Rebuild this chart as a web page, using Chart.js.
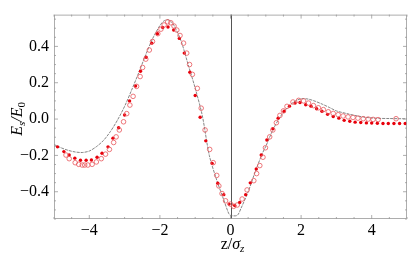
<!DOCTYPE html>
<html>
<head>
<meta charset="utf-8">
<script src="https://cdn.jsdelivr.net/npm/chart.js@4/dist/chart.umd.min.js"></script>
<style>
  html, body { margin: 0; padding: 0; background: #fff; }
  #wrap { width: 415px; height: 259px; }
</style>
</head>
<body>
<div id="wrap"><canvas id="myChart" width="415" height="259"></canvas></div>
<script>
// theory curve (thin gray line)
const lineZ = [-5.0, -4.8, -4.6, -4.4, -4.2, -4.0, -3.8, -3.6, -3.4, -3.2, -3.0, -2.8, -2.6, -2.4, -2.2, -2.0, -1.9, -1.8, -1.7, -1.6, -1.4, -1.2, -1.0, -0.8, -0.6, -0.4, -0.2, -0.05, 0.0, 0.19, 0.3, 0.5, 0.7, 0.9, 1.0, 1.2, 1.4, 1.6, 1.8, 2.0, 2.2, 2.4, 2.6, 2.8, 3.0, 3.3, 3.6, 3.9, 4.2, 4.5, 4.8, 5.0];
const lineV = [-0.14, -0.158, -0.172, -0.181, -0.184, -0.176, -0.152, -0.118, -0.068, -0.005, 0.07, 0.16, 0.255, 0.355, 0.445, 0.515, 0.538, 0.547, 0.54, 0.515, 0.43, 0.30, 0.17, 0.02, -0.2, -0.33, -0.44, -0.52, -0.53, -0.53, -0.49, -0.40, -0.29, -0.19, -0.15, -0.06, 0.01, 0.06, 0.095, 0.112, 0.11, 0.098, 0.082, 0.064, 0.045, 0.03, 0.017, 0.008, 0.004, 0.003, 0.002, 0.002];

// filled red dots
const dotZ = [-4.9, -4.72, -4.57, -4.41, -4.25, -4.09, -3.94, -3.78, -3.64, -3.47, -3.33, -3.17, -3.0, -2.86, -2.69, -2.55, -2.39, -2.23, -2.07, -1.92, -1.77, -1.61, -1.45, -1.31, -1.15, -1.0, -0.86, -0.70, -0.52, -0.36, -0.19, -0.04, 0.12, 0.26, 0.43, 0.56, 0.73, 0.87, 1.03, 1.2, 1.35, 1.52, 1.67, 1.83, 1.97, 2.13, 2.28, 2.44, 2.59, 2.75, 2.91, 3.07, 3.22, 3.38, 3.53, 3.69, 3.85, 4.0, 4.16, 4.32, 4.47, 4.63, 4.79, 4.95];
const dotV = [-0.153, -0.179, -0.198, -0.215, -0.227, -0.227, -0.225, -0.21, -0.188, -0.153, -0.105, -0.048, 0.022, 0.10, 0.182, 0.263, 0.34, 0.418, 0.47, 0.504, 0.507, 0.49, 0.444, 0.363, 0.258, 0.13, 0.01, -0.12, -0.244, -0.353, -0.416, -0.468, -0.476, -0.459, -0.416, -0.351, -0.275, -0.198, -0.115, -0.053, 0.005, 0.043, 0.071, 0.088, 0.091, 0.079, 0.071, 0.057, 0.043, 0.026, 0.014, 0.005, -0.007, -0.012, -0.017, -0.019, -0.021, -0.022, -0.023, -0.024, -0.024, -0.024, -0.024, -0.024];

// open red circles
const ringZ = [-4.66, -4.57, -4.4, -4.30, -4.20, -4.13, -4.04, -3.92, -3.80, -3.66, -3.54, -3.43, -3.31, -3.24, -3.15, -3.03, -2.94, -2.85, -2.76, -2.66, -2.56, -2.49, -2.40, -2.30, -2.21, -2.06, -1.97, -1.88, -1.78, -1.69, -1.60, -1.52, -1.43, -1.33, -1.24, -1.16, -1.08, -0.94, -0.83, -0.72, -0.59, -0.49, -0.39, -0.33, -0.24, -0.14, 0.0, 0.09, 0.19, 0.33, 0.47, 0.66, 0.74, 0.83, 0.92, 0.99, 1.11, 1.20, 1.30, 1.40, 1.50, 1.60, 1.77, 1.93, 2.07, 2.21, 2.35, 2.49, 2.63, 2.77, 2.91, 3.05, 3.19, 3.33, 3.47, 3.61, 3.76, 3.90, 4.04, 4.18, 4.69];
const ringV = [-0.198, -0.218, -0.24, -0.249, -0.253, -0.253, -0.253, -0.249, -0.236, -0.218, -0.193, -0.167, -0.129, -0.098, -0.06, -0.015, 0.03, 0.077, 0.125, 0.18, 0.234, 0.284, 0.33, 0.38, 0.427, 0.47, 0.495, 0.518, 0.535, 0.53, 0.512, 0.49, 0.46, 0.418, 0.363, 0.30, 0.246, 0.169, 0.06, -0.06, -0.167, -0.24, -0.31, -0.368, -0.41, -0.45, -0.468, -0.48, -0.473, -0.44, -0.39, -0.339, -0.30, -0.256, -0.21, -0.158, -0.098, -0.06, -0.02, 0.02, 0.045, 0.07, 0.094, 0.103, 0.10, 0.088, 0.074, 0.062, 0.052, 0.04, 0.031, 0.024, 0.017, 0.012, 0.009, 0.005, 0.002, 0.0, -0.002, -0.003, 0.002];

// axis ticks
const xTicks = [-4, -2, 0, 2, 4];
const yTicks = [-0.4, -0.2, 0.0, 0.2, 0.4];

const serif = '"Liberation Serif", "DejaVu Serif", serif';

function pairs(xs, ys) {
    return xs.map((x, i) => ({ x: x, y: ys[i] }));
}

function minus(s) {
    return String(s).replace('-', '\u2212');
}

// draw a label made of pieces (text, font, baseline shift), centred on cx
function drawPieces(ctx, parts, cx, y) {
    let w = 0;
    parts.forEach(p => { ctx.font = p[1]; w += ctx.measureText(p[0]).width; });
    let x = cx - w / 2;
    parts.forEach(p => {
        ctx.font = p[1];
        ctx.fillText(p[0], x, y + p[2]);
        x += ctx.measureText(p[0]).width;
    });
}

// frame, inward ticks, x = 0 line and axis titles
const framePlugin = {
    id: 'frame',
    beforeDatasetsDraw(chart) {
        const ctx = chart.ctx;
        const a = chart.chartArea;
        const xs = chart.scales.x;
        ctx.save();
        ctx.strokeStyle = '#555';
        ctx.lineWidth = 1;
        const x0 = Math.round(xs.getPixelForValue(0)) + 0.5;
        ctx.beginPath();
        ctx.moveTo(x0, a.top);
        ctx.lineTo(x0, a.bottom);
        ctx.stroke();
        ctx.restore();
    },
    afterDraw(chart) {
        const ctx = chart.ctx;
        const a = chart.chartArea;
        const xs = chart.scales.x;
        const ys = chart.scales.y;
        ctx.save();
        ctx.strokeStyle = '#999';
        ctx.lineWidth = 0.8;
        ctx.strokeRect(a.left + 0.5, a.top + 0.5, a.right - a.left - 1, a.bottom - a.top - 1);

        ctx.beginPath();
        for (let v = -5; v <= 5.001; v += 0.5) {
            const px = xs.getPixelForValue(v);
            const len = Math.abs(v % 2) < 0.01 ? 4 : 2;
            ctx.moveTo(px, a.bottom);
            ctx.lineTo(px, a.bottom - len);
            ctx.moveTo(px, a.top);
            ctx.lineTo(px, a.top + len);
        }
        for (let k = -11; k <= 11; k++) {
            const py = ys.getPixelForValue(k * 0.05);
            if (py < a.top || py > a.bottom) continue;
            const len = k % 4 === 0 ? 4 : 2;
            ctx.moveTo(a.left, py);
            ctx.lineTo(a.left + len, py);
            ctx.moveTo(a.right, py);
            ctx.lineTo(a.right - len, py);
        }
        ctx.stroke();

        // y title: E_s/E_0
        ctx.fillStyle = '#000';
        ctx.textBaseline = 'alphabetic';
        ctx.translate(22, (a.top + a.bottom) / 2 + 2);
        ctx.rotate(-Math.PI / 2);
        drawPieces(ctx, [
            ['E', 'italic 16px ' + serif, 0],
            ['s', 'italic 11px ' + serif, 3],
            ['/E', 'italic 16px ' + serif, 0],
            ['0', '11px ' + serif, 3]
        ], 0, 0);
        ctx.restore();

        // x title: z/σ_z
        ctx.save();
        ctx.fillStyle = '#000';
        drawPieces(ctx, [
            ['z/', '16px ' + serif, 0],
            ['\u03c3', 'italic 16px ' + serif, 0],
            ['z', 'italic 11px ' + serif, 3]
        ], xs.getPixelForValue(0) + 2, 249);
        ctx.restore();
    }
};

const canvas = document.getElementById('myChart').getContext('2d');

const chart = new Chart(canvas, {
    type: 'scatter',
    data: {
        datasets: [{
            label: 'theory',
            data: pairs(lineZ, lineV),
            showLine: true,
            borderColor: '#666',
            borderWidth: 0.8,
            borderDash: [3, 1],
            pointRadius: 0,
            tension: 0.3,
            order: 3
        }, {
            label: 'filled',
            data: pairs(dotZ, dotV),
            pointRadius: 1.7,
            pointBackgroundColor: '#e8000b',
            pointBorderColor: '#e8000b',
            pointBorderWidth: 0,
            order: 2
        }, {
            label: 'open',
            data: pairs(ringZ, ringV),
            pointRadius: 2.3,
            pointBackgroundColor: 'rgba(0, 0, 0, 0)',
            pointBorderColor: '#e8555a',
            pointBorderWidth: 0.8,
            order: 1
        }]
    },
    options: {
        responsive: false,
        animation: false,
        layout: { padding: { top: 1, right: 8, left: 0, bottom: 0 } },
        plugins: {
            legend: { display: false },
            tooltip: { enabled: false }
        },
        scales: {
            x: {
                type: 'linear',
                min: -5,
                max: 5,
                grid: { display: false, drawTicks: false },
                border: { display: false },
                afterBuildTicks: (s) => { s.ticks = xTicks.map(v => ({ value: v })); },
                afterFit: (s) => { s.height = 40; },
                ticks: {
                    padding: 2,
                    color: '#000',
                    font: { family: serif, size: 16 },
                    maxRotation: 0,
                    callback: (v) => minus(v)
                }
            },
            y: {
                type: 'linear',
                min: -0.55,
                max: 0.575,
                grid: { display: false, drawTicks: false },
                border: { display: false },
                afterBuildTicks: (s) => { s.ticks = yTicks.map(v => ({ value: v })); },
                afterFit: (s) => { s.width = 54; },
                ticks: {
                    padding: 5,
                    color: '#000',
                    font: { family: serif, size: 16 },
                    callback: (v) => minus(Number(v).toFixed(1))
                }
            }
        }
    },
    plugins: [framePlugin]
});
</script>
</body>
</html>
